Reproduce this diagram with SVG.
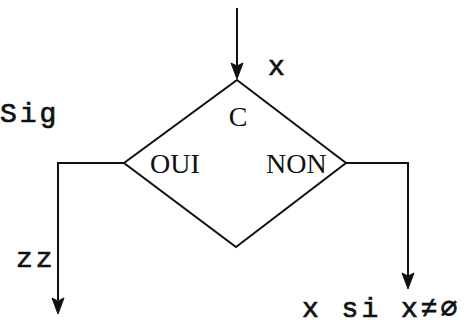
<svg xmlns="http://www.w3.org/2000/svg" width="467" height="330" viewBox="0 0 467 330">
<style>
.ln{fill:none;stroke:#111;stroke-width:2}
.mono{font-family:"Liberation Mono","DejaVu Sans Mono",monospace;font-size:28px;letter-spacing:3px;fill:#111;stroke:#111;stroke-width:0.7}
.serif{font-family:"Liberation Serif","DejaVu Serif",serif;font-size:28px;fill:#111}
.head{fill:#111;stroke:#111;stroke-width:1;stroke-linejoin:round}
</style>
<rect width="467" height="330" fill="#fff"/>
<g id="decision">
<polygon class="ln" points="237,80 346,163 236,247 124,163"/>
<text class="serif" x="238" y="126" text-anchor="middle">C</text>
<text class="serif" x="150" y="173">OUI</text>
<text class="serif" x="266" y="173">NON</text>
</g>
<g id="connectors">
<path class="ln" d="M237,8 L237,68"/>
<path class="head" d="M231,63 L237,66 L243,63 L237,79 Z"/>
<path class="ln" d="M124,163 L58,163 L58,300"/>
<path class="head" d="M52,298 L58,301 L64,298 L58,314 Z"/>
<path class="ln" d="M346,163 L408,163 L408,279"/>
<path class="head" d="M402,273 L408,276 L414,273 L408,289 Z"/>
</g>
<g id="labels">
<text class="mono" x="268" y="75">x</text>
<text class="mono" x="0" y="122">Sig</text>
<text class="mono" x="16" y="267">zz</text>
<text class="mono" x="302" y="317">x si x≠∅</text>
</g>
</svg>
